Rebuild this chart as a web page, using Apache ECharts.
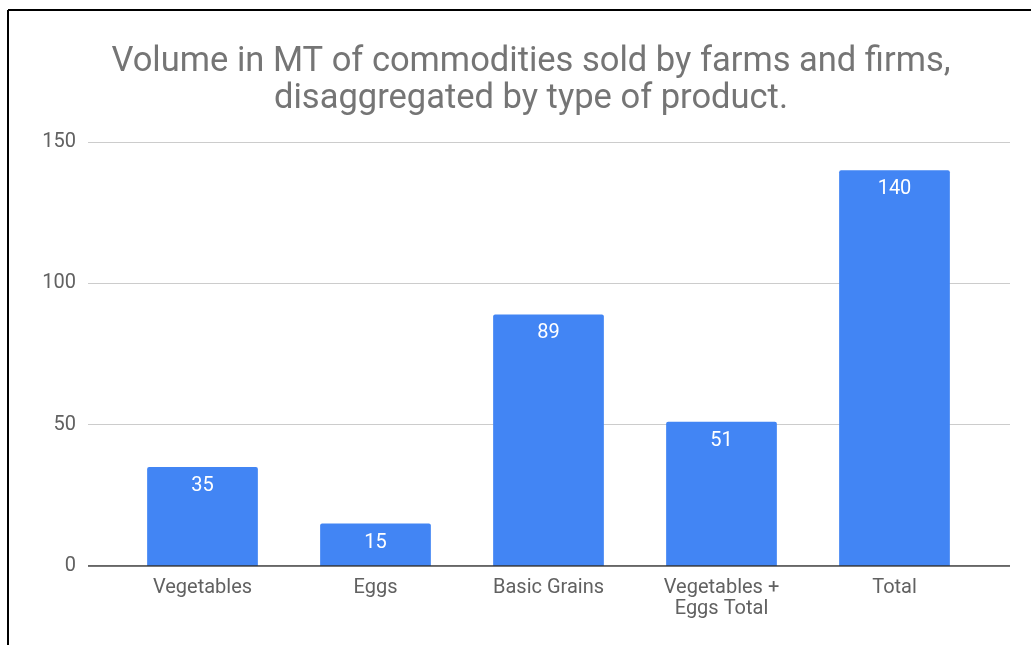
<!DOCTYPE html>
<html>
<head>
<meta charset="utf-8">
<script src="https://cdn.jsdelivr.net/npm/echarts@6/dist/echarts.min.js"></script>
<style>
  html, body { margin: 0; padding: 0; background: #fff; }
  #chart { width: 1031px; height: 645px; }
</style>
</head>
<body>
<div id="chart"></div>
<script>
const categories = ['Vegetables', 'Eggs', 'Basic Grains', 'Vegetables +\nEggs Total', 'Total'];
const volumes = [35, 15, 89, 51, 140];
const yTicks = [0, 50, 100, 150];

const chart = echarts.init(document.getElementById('chart'));
const FONT = 'Roboto, "Noto Sans", sans-serif';
const TOP = 142, BOTTOM = 645 - 566;

chart.setOption({
  animation: false,
  backgroundColor: '#fff',
  title: {
    text: 'Volume in MT of commodities sold by farms and firms,\ndisaggregated by type of product.',
    left: 526, top: 39, textAlign: 'center',
    textStyle: { fontFamily: FONT, fontSize: 34.5, fontWeight: 'normal', color: '#757575', lineHeight: 37 }
  },
  graphic: [
    { type: 'line', shape: { x1: 8, y1: 10, x2: 1031, y2: 10 }, style: { stroke: '#000', lineWidth: 2 } },
    { type: 'line', shape: { x1: 8, y1: 10, x2: 8, y2: 645 }, style: { stroke: '#000', lineWidth: 2 } }
  ],
  grid: [
    // full-width frame: gridlines, tick labels and baseline
    { left: 88, right: 21, top: TOP, bottom: BOTTOM },
    // bars
    { left: 116, width: 865, top: TOP, bottom: BOTTOM }
  ],
  xAxis: [
    { gridIndex: 0, type: 'value', min: 0, max: 1, show: false },
    {
      gridIndex: 1, type: 'category', data: categories,
      axisLine: { show: false }, axisTick: { show: false },
      axisLabel: { fontFamily: FONT, fontSize: 20, color: '#616161', margin: 11, lineHeight: 21 }
    }
  ],
  yAxis: [
    {
      gridIndex: 0, type: 'value', min: 0, max: 150, interval: 50,
      axisLine: { show: false }, axisTick: { show: false },
      axisLabel: { fontFamily: FONT, fontSize: 20, color: '#616161', margin: 12 },
      splitLine: { lineStyle: { color: '#cccccc', width: 1 } }
    },
    { gridIndex: 1, type: 'value', min: 0, max: 150, interval: 50, show: false, splitLine: { show: false } }
  ],
  series: [
    {
      type: 'line', xAxisIndex: 0, yAxisIndex: 0, data: [[0, 0], [1, 0]],
      symbol: 'none', silent: true, lineStyle: { color: '#333', width: 1.5 }, z: 5
    },
    {
      type: 'bar', xAxisIndex: 1, yAxisIndex: 1, data: volumes,
      barCategoryGap: '36%',
      itemStyle: { color: '#4285f4', borderRadius: [2, 2, 0, 0] },
      label: {
        show: true, position: 'insideTop', distance: 9,
        fontFamily: FONT, fontSize: 20, color: '#fff'
      },
      z: 3
    }
  ]
});
</script>
</body>
</html>
